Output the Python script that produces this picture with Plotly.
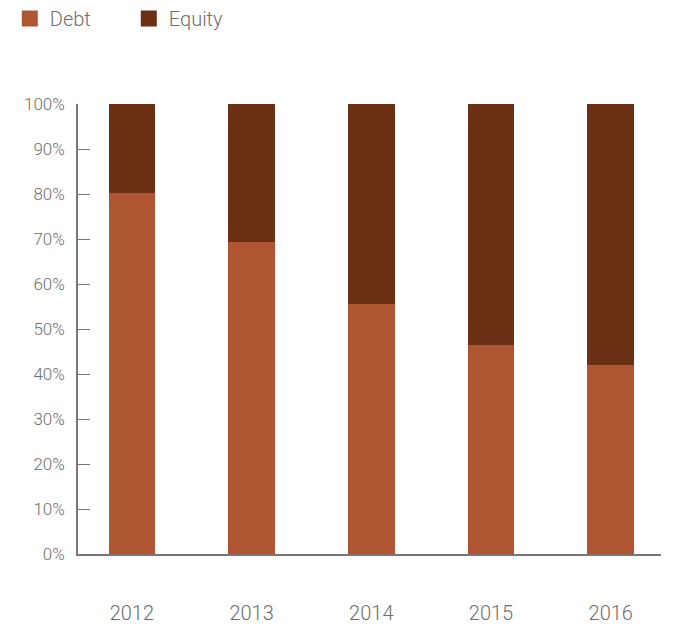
import plotly.graph_objects as go

years = ["2012", "2013", "2014", "2015", "2016"]
debt = [80.3, 69.3, 55.6, 46.4, 42.0]
equity = [100 - d for d in debt]
y_ticks = [0, 10, 20, 30, 40, 50, 60, 70, 80, 90, 100]
y_tick_labels = [f"{v}%" for v in y_ticks]
series_names = ["Debt", "Equity"]

DEBT_C = "#B05532"
EQUITY_C = "#6B2F14"
GREY = "#6e6e6e"
FONT = "Roboto"

fig = go.Figure()
fig.add_bar(x=years, y=debt, name=series_names[0], marker=dict(color=DEBT_C, line=dict(width=0)),
            width=0.39, showlegend=False)
fig.add_bar(x=years, y=equity, name=series_names[1], marker=dict(color=EQUITY_C, line=dict(width=0)),
            width=0.39, showlegend=False)
# legend entries with 16px square swatches
for nm, c in zip(series_names, [DEBT_C, EQUITY_C]):
    fig.add_scatter(x=[None], y=[None], mode="markers", name=nm,
                    marker=dict(symbol="square", size=16, color=c, line=dict(width=0)))

# page body has an 8px margin, so the figure is sized/margined to compensate
fig.update_layout(
    width=676, height=622,
    barmode="stack",
    plot_bgcolor="white", paper_bgcolor="white",
    margin=dict(l=70, r=23, t=96, b=76, autoexpand=False),
    font=dict(family=FONT, color=GREY, weight=300),
    showlegend=True,
    legend=dict(
        orientation="h", xref="paper", yref="paper",
        x=-0.117, y=1.2336, xanchor="left", yanchor="top",
        font=dict(size=20, family=FONT, color=GREY, weight=300),
        entrywidth=74, entrywidthmode="pixels",
        itemclick=False, traceorder="normal",
    ),
)
fig.update_xaxes(
    type="category", range=[-0.45, 4.42], automargin=False,
    showline=True, linecolor="#777777", linewidth=2,
    ticks="", showgrid=False, zeroline=False,
    tickfont=dict(size=20, family=FONT, color=GREY, weight=300),
    ticklabelstandoff=40,
)
fig.update_yaxes(
    range=[0, 100], automargin=False,
    tickvals=y_ticks, ticktext=y_tick_labels,
    showline=True, linecolor="#777777", linewidth=1.5,
    ticks="inside", ticklen=12, tickcolor="#777777", tickwidth=1.2,
    showgrid=False, zeroline=False,
    tickfont=dict(size=17, family=FONT, color=GREY, weight=300),
    ticklabelstandoff=8,
)
fig.write_html("out.html")
